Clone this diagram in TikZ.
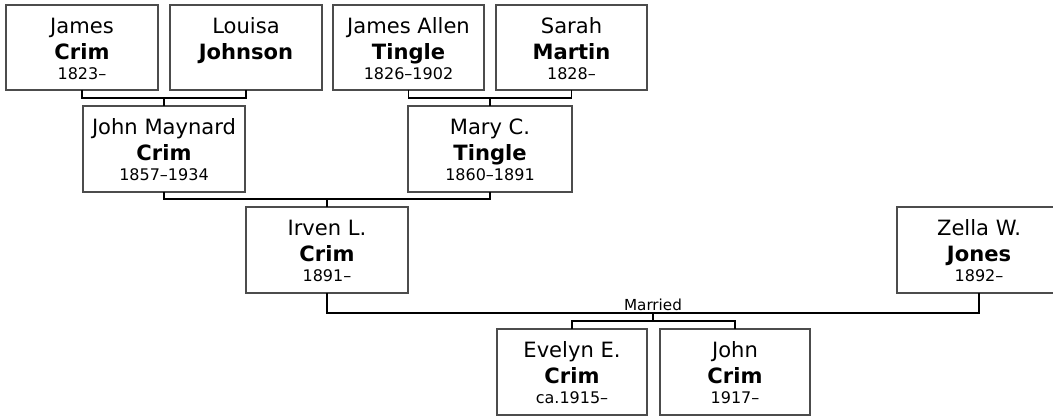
\documentclass[tikz,border=0pt]{standalone}
\usepackage{fontspec}
\setmainfont{DejaVu Sans}
\begin{document}
\begin{tikzpicture}[x=0.75pt,y=-0.75pt,
  pbox/.style={draw=black!70,line width=1.4pt,fill=white,inner sep=0pt,outer sep=0pt,anchor=north west},
  link/.style={draw=black,line width=0.9pt},
  nm/.style={anchor=base,inner sep=0pt,font=\fontsize{15.8}{18}\selectfont},
  dt/.style={anchor=base,inner sep=0pt,font=\fontsize{12}{14}\selectfont},
  lbl/.style={anchor=base,inner sep=0pt,font=\fontsize{11.4}{13}\selectfont}]
\useasboundingbox (0,0) rectangle (1053,417);
\clip (0,0) rectangle (1053,417);
% #1 name, #2 x1, #3 y1, #4 x2, #5 y2, #6 first, #7 last, #8 date
\newcommand\person[8]{%
  \node[pbox,minimum width={(#4-#2)*0.75pt},minimum height={(#5-#3)*0.75pt}] (#1) at (#2,#3) {};
  \node[nm] (#1-a) at ([yshift=-21.2pt]#1.north) {#6};
  \node[nm,font=\fontsize{15.8}{18}\selectfont\bfseries] (#1-b) at ([yshift=-40.8pt]#1.north) {#7};
  \node[dt] (#1-c) at ([yshift=-55.8pt]#1.north) {#8};
}
\person{jc}{6}{5}{158}{90}{James}{Crim}{1823–}
\person{lj}{170}{5}{322}{90}{Louisa}{Johnson}{}
\person{jat}{333}{5}{484}{90}{James Allen}{Tingle}{1826–1902}
\person{sm}{496}{5}{647}{90}{Sarah}{Martin}{1828–}
\person{jmc}{83}{106}{245}{192}{John Maynard}{Crim}{1857–1934}
\person{mct}{408}{106}{572}{192}{Mary C.}{Tingle}{1860–1891}
\person{ilc}{246}{207}{408}{293}{Irven L.}{Crim}{1891–}
\person{zwj}{897}{207}{1061}{293}{Zella W.}{Jones}{1892–}
\person{eec}{497}{329}{647}{415}{Evelyn E.}{Crim}{ca.1915–}
\person{joc}{660}{329}{810}{415}{John}{Crim}{1917–}
% couple connectors
\coordinate (m1) at (164,98);
\draw[link] (jc.south) -- (jc.south |- m1) -- (lj.south |- m1) -- (lj.south);
\draw[link] (m1) -- (jmc.north);
\coordinate (m2) at (490,98);
\draw[link] (jat.south) -- (jat.south |- m2) -- (sm.south |- m2) -- (sm.south);
\draw[link] (m2) -- (mct.north);
\coordinate (m3) at (327,199);
\draw[link] (jmc.south) -- (jmc.south |- m3) -- (mct.south |- m3) -- (mct.south);
\draw[link] (m3) -- (ilc.north);
\coordinate (m4) at (653,313);
\draw[link] (ilc.south) -- (ilc.south |- m4) -- (zwj.south |- m4) -- (zwj.south);
\node[lbl] (married) at (653,310) {Married};
\coordinate (s1) at (653,321);
\draw[link] (m4) -- (s1);
\draw[link] (eec.north) -- (eec.north |- s1) -- (joc.north |- s1) -- (joc.north);
\end{tikzpicture}
\end{document}
